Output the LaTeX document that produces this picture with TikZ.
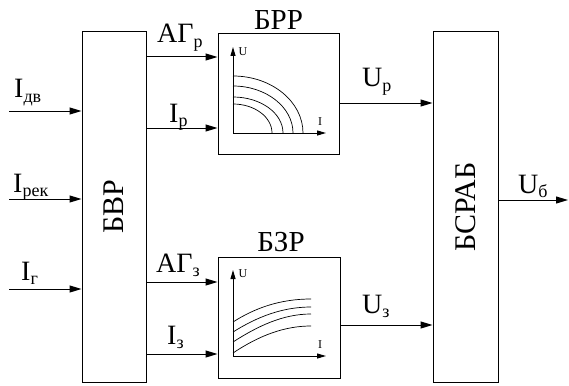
\documentclass[tikz,border=0pt]{standalone}
\usepackage{fontspec}
\setmainfont{Liberation Serif}
\usetikzlibrary{arrows.meta}
\newcommand{\lblsub}[2]{#1\raisebox{-0.35ex}{\fontsize{18}{20}\selectfont #2}}
\begin{document}
\begin{tikzpicture}[x=1pt,y=-1pt,
  box/.style={draw,line width=1pt,inner sep=0pt},
  arr/.style={line width=1pt,-{Triangle[length=12pt,width=7pt]}},
  axis/.style={line width=1pt,-{Triangle[length=9pt,width=5pt]}},
  crv/.style={line width=0.7pt},
  lbl/.style={font=\fontsize{28}{30}\selectfont,inner sep=0pt,anchor=base west},
  ttl/.style={font=\fontsize{30}{32}\selectfont,inner sep=0pt},
  btl/.style={font=\fontsize{29}{30}\selectfont,inner sep=0pt,anchor=base},
  small/.style={font=\fontsize{12}{12}\selectfont,inner sep=0pt}]
\useasboundingbox (0,0) rectangle (569,385);
% blocks
\node[box,minimum width=64pt,minimum height=350pt] (bvr) at (114,207) {};
\node[rotate=90,ttl] (bvrt) at (bvr.center) {БВР};
\node[box,minimum width=121pt,minimum height=121pt] (brr) at (278.5,94) {};
\node[box,minimum width=122pt,minimum height=121pt] (bzr) at (279,317.5) {};
\node[box,minimum width=65pt,minimum height=350pt] (bsrab) at (465.5,207) {};
\node[rotate=90,ttl] (bsrabt) at (bsrab.center) {БСРАБ};
\node[btl] (brrt) at (278.5,30) {БРР};
\node[btl] (bzrt) at (281,251) {БЗР};
% inputs
\coordinate (in1) at (9,111);
\coordinate (in2) at (9,199);
\coordinate (in3) at (9,289);
\draw[arr] (in1) -- (bvr.west |- in1);
\draw[arr] (in2) -- (bvr.west |- in2);
\draw[arr] (in3) -- (bvr.west |- in3);
\node[lbl] (l1) at (14,98) {\lblsub{I}{дв}};
\node[lbl] (l2) at (13,192) {\lblsub{I}{рек}};
\node[lbl] (l3) at (21,280) {\lblsub{I}{г}};
% BVR -> BRR / BZR
\coordinate (c1) at (0,57);
\coordinate (c2) at (0,128);
\coordinate (c3) at (0,282);
\coordinate (c4) at (0,354);
\draw[arr] (bvr.east |- c1) -- (brr.west |- c1);
\draw[arr] (bvr.east |- c2) -- (brr.west |- c2);
\draw[arr] (bvr.east |- c3) -- (bzr.west |- c3);
\draw[arr] (bvr.east |- c4) -- (bzr.west |- c4);
\node[lbl] (l4) at (157,43) {\lblsub{АГ}{р}};
\node[lbl] (l5) at (169,122) {\lblsub{I}{р}};
\node[lbl] (l6) at (156,272) {\lblsub{АГ}{з}};
\node[lbl] (l7) at (167,344) {\lblsub{I}{з}};
% BRR/BZR -> BSRAB
\coordinate (c5) at (0,103);
\coordinate (c6) at (0,325);
\draw[arr] (brr.east |- c5) -- (bsrab.west |- c5);
\draw[arr] (bzr.east |- c6) -- (bsrab.west |- c6);
\node[lbl] (l8) at (362,87) {\lblsub{U}{р}};
\node[lbl] (l9) at (362,313) {\lblsub{U}{з}};
% output
\coordinate (out) at (568,200);
\draw[arr] (bsrab.east |- out) -- (out);
\node[lbl] (l10) at (518,193) {\lblsub{U}{б}};
% graph in BRR
\draw[axis] (233,133) -- (233,47);
\draw[axis] (233,133) -- (326,133);
\node[small] (u1) at (243,52) {U};
\node[small] (i1) at (320,122) {I};
\draw[crv] (233,76) .. controls (271.6,76) and (303,101.6) .. (303,133);
\draw[crv] (233,86) .. controls (266,86) and (293,107.1) .. (293,133);
\draw[crv] (233,97) .. controls (260.6,97) and (283,113.1) .. (283,133);
\draw[crv] (233,104) .. controls (254.5,104) and (272,117) .. (272,133);
% graph in BZR
\draw[axis] (233,356) -- (233,270);
\draw[axis] (233,356) -- (326,356);
\node[small] (u2) at (243,274) {U};
\node[small] (i2) at (320,345) {I};
\draw[crv] (233,322) .. controls (255,308) and (280,299) .. (311,299);
\draw[crv] (233,332) .. controls (257,317) and (282,307) .. (311,307);
\draw[crv] (233,342) .. controls (258,326) and (283,314) .. (311,314);
\draw[crv] (233,353) .. controls (260,335) and (285,326) .. (311,326);
\end{tikzpicture}
\end{document}
